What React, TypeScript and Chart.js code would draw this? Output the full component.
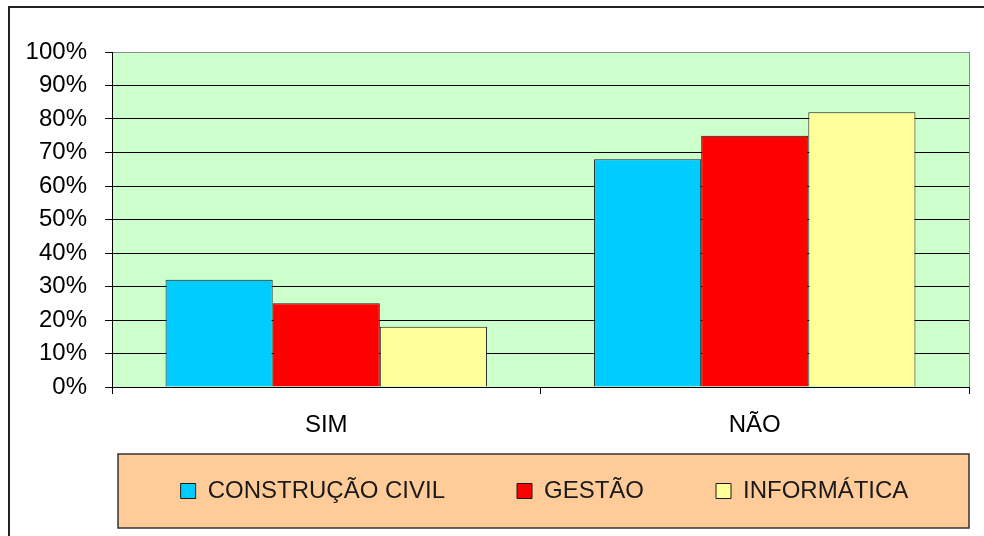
import React, { useEffect, useRef } from "react";
import { Chart, registerables } from "chart.js";

Chart.register(...registerables);

const categories = ["SIM", "NÃO"];
const seriesNames = ["CONSTRUÇÃO CIVIL", "GESTÃO", "INFORMÁTICA"];
const construcaoCivil = [32, 68];
const gestao = [25, 75];
const informatica = [18, 82];
const yTicks = [0, 10, 20, 30, 40, 50, 60, 70, 80, 90, 100];

const FONT = "'Liberation Sans', Arial, sans-serif";
const LEGEND_PAD = 72;
const LEGEND_FONT = 24;
const LEGEND_CY = 491;
const LEGEND_SHIFT = 60;

const decorPlugin = {
  id: "decor",
  afterLayout(chart: any) {
    const lg = chart.legend;
    if (!lg) return;
    lg.top = LEGEND_CY - LEGEND_PAD - LEGEND_FONT / 2;
    lg.bottom = 536;
    lg.left += LEGEND_SHIFT;
    lg.right += LEGEND_SHIFT;
  },
  beforeDraw(chart: any) {
    const ctx = chart.ctx;
    const { left, right, top, bottom } = chart.chartArea;
    ctx.save();
    // outer frame
    ctx.strokeStyle = "#222";
    ctx.lineWidth = 2;
    ctx.beginPath();
    ctx.moveTo(9, 536);
    ctx.lineTo(9, 7);
    ctx.lineTo(984, 7);
    ctx.stroke();
    // plot background
    ctx.fillStyle = "#CCFFCC";
    ctx.fillRect(left, top, right - left, bottom - top);
    // right border of plot
    ctx.strokeStyle = "#8a8a8a";
    ctx.lineWidth = 1;
    ctx.beginPath();
    ctx.moveTo(right + 0.5, top);
    ctx.lineTo(right + 0.5, bottom);
    ctx.stroke();
    // legend box
    const cy = LEGEND_CY;
    ctx.fillStyle = "#FFCC99";
    ctx.fillRect(left + 6, cy - 37, right - left - 6, 74);
    ctx.strokeStyle = "#333";
    ctx.lineWidth = 1.5;
    ctx.strokeRect(left + 6, cy - 37, right - left - 6, 74);
    ctx.restore();
  },
};

export default function App() {
  const ref = useRef<HTMLCanvasElement | null>(null);
  useEffect(() => {
    if (!ref.current) return;
    const chart = new Chart(ref.current, {
      type: "bar",
      data: {
        labels: categories,
        datasets: [
          { label: seriesNames[0], data: construcaoCivil, backgroundColor: "#00CCFF", borderColor: "#1a1a1a", borderWidth: 1 },
          { label: seriesNames[1], data: gestao, backgroundColor: "#FF0000", borderColor: "#1a1a1a", borderWidth: 1 },
          { label: seriesNames[2], data: informatica, backgroundColor: "#FFFF99", borderColor: "#1a1a1a", borderWidth: 1 },
        ],
      },
      options: {
        responsive: false,
        animation: false,
        devicePixelRatio: 1,
        datasets: { bar: { categoryPercentage: 0.75, barPercentage: 1 } },
        layout: { padding: { top: 52, right: 15, left: 0, bottom: 0 } },
        plugins: {
          tooltip: { enabled: false },
          legend: {
            position: "bottom",
            maxHeight: 91,
            labels: {
              font: { family: FONT, size: LEGEND_FONT },
              color: "#1a1a1a",
              boxWidth: 15,
              boxHeight: 15,
              padding: LEGEND_PAD,
            },
          },
        },
        scales: {
          x: {
            grid: {
              offset: true,
              drawOnChartArea: false,
              color: "#000",
              tickLength: 7,
            },
            border: { color: "#000", width: 1 },
            ticks: { font: { family: FONT, size: 24 }, color: "#000", padding: 17 },
            afterFit(scale: any) {
              scale.height = 58;
            },
          },
          y: {
            min: 0,
            max: 100,
            afterBuildTicks(scale: any) {
              scale.ticks = yTicks.map((v) => ({ value: v }));
            },
            grid: {
              color: (c: any) => (c.tick && c.tick.value === 100 ? "#8a8a8a" : "#000"),
              tickColor: "#000",
              tickLength: 7,
            },
            border: { color: "#000", width: 1 },
            ticks: {
              font: { family: FONT, size: 24 },
              color: "#000",
              padding: 18,
              callback: (v: any) => v + "%",
            },
            afterFit(scale: any) {
              scale.width = 112;
            },
          },
        },
      },
      plugins: [decorPlugin],
    } as any);
    return () => chart.destroy();
  }, []);
  return (
    <div style={{ position: "fixed", left: 0, top: 0, width: 984, height: 536, background: "#fff" }}>
      <canvas ref={ref} width={984} height={536} style={{ width: 984, height: 536, display: "block" }} />
    </div>
  );
}
